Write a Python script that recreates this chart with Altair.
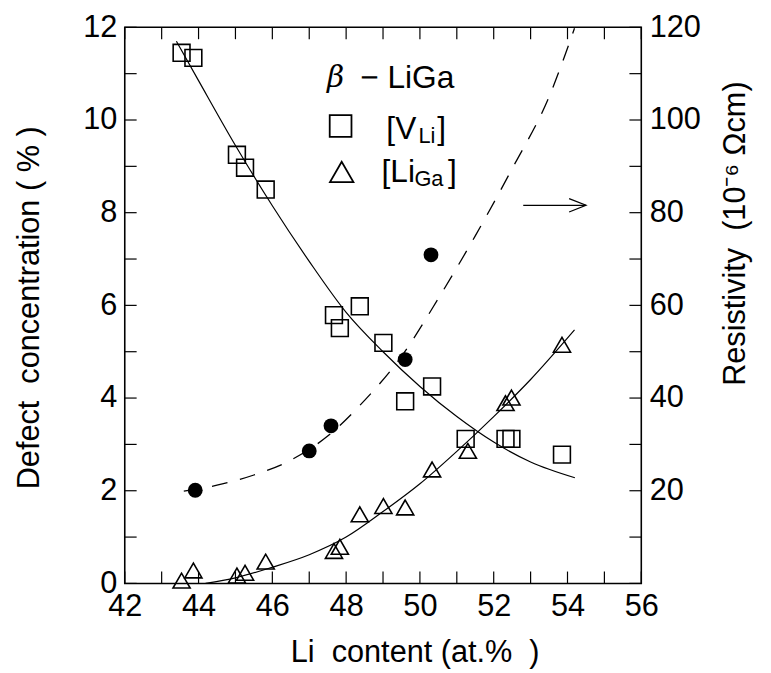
import altair as alt
import pandas as pd

FONT = "Liberation Sans"

# ---- data ----
# [V_Li] squares (left axis, %)
vli_x = [43.54, 43.86, 45.04, 45.26, 45.82, 47.67, 47.83, 48.37, 49.01, 49.60, 50.33, 51.24, 52.32, 52.48, 53.85]
vli_y = [11.45, 11.34, 9.25, 8.97, 8.50, 5.79, 5.51, 5.98, 5.19, 3.93, 4.25, 3.12, 3.12, 3.12, 2.78]

# [Li_Ga] triangles (left axis, %)
liga_x = [43.54, 43.86, 45.04, 45.26, 45.82, 47.67, 47.83, 48.37, 49.01, 49.60, 50.33, 51.30, 52.32, 52.48, 53.85]
liga_y = [0.06, 0.28, 0.17, 0.23, 0.47, 0.70, 0.79, 1.49, 1.67, 1.64, 2.46, 2.86, 3.89, 4.01, 5.15]

# resistivity filled circles (right axis, 1e-6 ohm cm)
rho_x = [43.91, 47.00, 47.59, 49.60, 50.30]
rho_y = [20.1, 28.6, 34.0, 48.3, 70.9]

# fitted curves
vli_fit_x = [43.40, 44.0, 45.0, 46.0, 47.0, 48.0, 49.0, 50.0, 51.0, 52.0, 53.0, 54.2]
vli_fit_y = [11.70, 10.85, 9.45, 8.15, 6.95, 5.85, 5.00, 4.25, 3.60, 3.05, 2.62, 2.28]

liga_fit_x = [44.19, 45.0, 46.0, 47.0, 48.0, 49.0, 50.0, 51.0, 52.0, 53.0, 54.19]
liga_fit_y = [0.00, 0.12, 0.35, 0.62, 1.00, 1.55, 2.15, 2.85, 3.60, 4.40, 5.47]

rho_fit_x = [43.60, 44.5, 45.5, 46.5, 47.5, 48.5, 49.5, 50.5, 51.5, 52.5, 53.5, 54.19]
rho_fit_y = [19.9, 21.2, 23.4, 26.6, 31.8, 39.5, 49.0, 61.5, 75.0, 89.5, 105.0, 119.8]

# axis ticks
x_ticks = list(range(42, 57))
x_labels = list(range(42, 57, 2))
yl_ticks = list(range(0, 13))
yl_labels = list(range(0, 13, 2))
yr_ticks = list(range(0, 121, 10))
yr_labels = list(range(20, 121, 20))

# annotations (data units)
arrow_x = [52.8, 54.5]
arrow_y = [8.16, 8.16]

W, H = 522, 562
TICK = 12
NB = "\u00a0"

xscale = alt.Scale(domain=[42, 56], nice=False, zero=False)
ylscale = alt.Scale(domain=[0, 12], nice=False, zero=False)
yrscale = alt.Scale(domain=[0, 120], nice=False, zero=False)

common_axis = dict(tickSize=0, domain=False, grid=False, labelFont=FONT, labelFontSize=31,
                   labelColor="black", labelPadding=8, labelFlush=False, labelOverlap=False,
                   titleFont=FONT, titleFontSize=31, titleFontWeight="normal", titleColor="black")

xaxis = alt.Axis(values=x_labels, title=f"Li{NB} content (at.%{NB} )", titleX=293, titleY=79,
                 titleBaseline="alphabetic", titleAlign="center", **common_axis)
ylaxis = alt.Axis(values=yl_labels, title=f"Defect{NB} concentration ( % )", titleAngle=270,
                  titleX=-96, titleY=283, titleAlign="center", titleBaseline="middle", **common_axis)
yraxis = alt.Axis(values=yr_labels, orient="right", title=f"Resistivity{NB} (10⁻⁶ Ωcm)", titleAngle=270,
                  titleX=95, titleY=208, titleAlign="center", titleBaseline="middle", **common_axis)


def X(f="x"):
    return alt.X(f"{f}:Q", scale=xscale, axis=xaxis)


def YL(f="y"):
    return alt.Y(f"{f}:Q", scale=ylscale, axis=ylaxis)


def YR(f="y"):
    return alt.Y(f"{f}:Q", scale=yrscale, axis=yraxis)


df_vli = pd.DataFrame({"x": vli_x, "y": vli_y})
df_liga = pd.DataFrame({"x": liga_x, "y": liga_y})
df_rho = pd.DataFrame({"x": rho_x, "y": rho_y})
df_vfit = pd.DataFrame({"x": vli_fit_x, "y": vli_fit_y})
df_lfit = pd.DataFrame({"x": liga_fit_x, "y": liga_fit_y})
df_rfit = pd.DataFrame({"x": rho_fit_x, "y": rho_fit_y})

# ticks (inward)
bottom_ticks = alt.Chart(pd.DataFrame({"x": x_ticks})).mark_rule(color="black", strokeWidth=1.2).encode(
    x=X(), y=alt.value(H), y2=alt.value(H - TICK))
top_ticks = alt.Chart(pd.DataFrame({"x": x_ticks})).mark_rule(color="black", strokeWidth=1.2).encode(
    x=X(), y=alt.value(0), y2=alt.value(TICK))
left_ticks = alt.Chart(pd.DataFrame({"y": yl_ticks})).mark_rule(color="black", strokeWidth=1.2).encode(
    y=YL(), x=alt.value(0), x2=alt.value(TICK))
right_ticks = alt.Chart(pd.DataFrame({"y": yr_ticks})).mark_rule(color="black", strokeWidth=1.2).encode(
    y=YR(), x=alt.value(W - TICK), x2=alt.value(W))

vfit = alt.Chart(df_vfit).mark_line(color="black", strokeWidth=1.2, interpolate="monotone").encode(x=X(), y=YL())
lfit = alt.Chart(df_lfit).mark_line(color="black", strokeWidth=1.2, interpolate="monotone").encode(x=X(), y=YL())
squares = alt.Chart(df_vli).mark_point(shape="square", filled=False, color="black", strokeWidth=1.6,
                                       size=289, opacity=1).encode(x=X(), y=YL())
triangles = alt.Chart(df_liga).mark_point(shape="triangle-up", filled=False, color="black", strokeWidth=1.6,
                                          size=300, opacity=1).encode(x=X(), y=YL())

# legend block
leg_sym = pd.DataFrame({"x": [47.85], "y": [9.87]})
leg_tri = pd.DataFrame({"x": [47.88], "y": [8.88]})
leg_square = alt.Chart(leg_sym).mark_point(shape="square", filled=False, color="black", strokeWidth=1.8,
                                            size=484, opacity=1).encode(x=X(), y=YL())
leg_triangle = alt.Chart(leg_tri).mark_point(shape="triangle-up", filled=False, color="black", strokeWidth=1.8,
                                              size=560, opacity=1).encode(x=X(), y=YL())

big_text = pd.DataFrame({
    "x": [48.38, 49.09, 50.47, 48.96, 50.76],
    "y": [10.91, 9.80, 9.80, 8.88, 8.88],
    "t": ["− LiGa", "[V", "]", "[Li", "]"],
})
sub_text = pd.DataFrame({"x": [49.96, 49.85], "y": [9.65, 8.73], "t": ["Li", "Ga"]})
beta_text = pd.DataFrame({"x": [47.48], "y": [10.91], "t": ["β"]})

t_big = alt.Chart(big_text).mark_text(font=FONT, fontSize=32, align="left", baseline="middle", color="black").encode(
    x=X(), y=YL(), text="t:N")
t_sub = alt.Chart(sub_text).mark_text(font=FONT, fontSize=22, align="left", baseline="middle", color="black").encode(
    x=X(), y=YL(), text="t:N")
t_beta = alt.Chart(beta_text).mark_text(font="DejaVu Serif", fontStyle="italic", fontSize=30, align="left",
                                         baseline="middle", color="black").encode(x=X(), y=YL(), text="t:N")

arrow_df = pd.DataFrame({"x": arrow_x, "y": arrow_y})
arrow_line = alt.Chart(arrow_df).mark_line(color="black", strokeWidth=1.3).encode(x=X(), y=YL())
arrow_head = alt.Chart(arrow_df.iloc[[1]]).mark_point(shape="M -2 -0.8 L 0 0 L -2 0.8", filled=False,
                                                       color="black", strokeWidth=1.3, size=289, opacity=1).encode(
    x=X(), y=YL())

left_group = alt.layer(bottom_ticks, top_ticks, left_ticks, vfit, lfit, squares, triangles,
                       leg_square, leg_triangle, t_big, t_sub, t_beta, arrow_line, arrow_head)

rfit = alt.Chart(df_rfit).mark_line(color="black", strokeWidth=1.3, strokeDash=[16, 13],
                                    interpolate="monotone").encode(x=X(), y=YR())
circles = alt.Chart(df_rho).mark_point(shape="circle", filled=True, color="black", size=225, opacity=1).encode(
    x=X(), y=YR())
right_group = alt.layer(right_ticks, rfit, circles)

chart = alt.layer(left_group, right_group).resolve_scale(y="independent").properties(
    width=W, height=H,
    autosize=alt.AutoSizeParams(type="none"),
    padding={"left": 118, "top": 16, "right": 123, "bottom": 87},
    background="white",
).configure_view(stroke="black", strokeWidth=1.6)

chart.save("out.html", embed_options={"renderer": "svg", "actions": False})
